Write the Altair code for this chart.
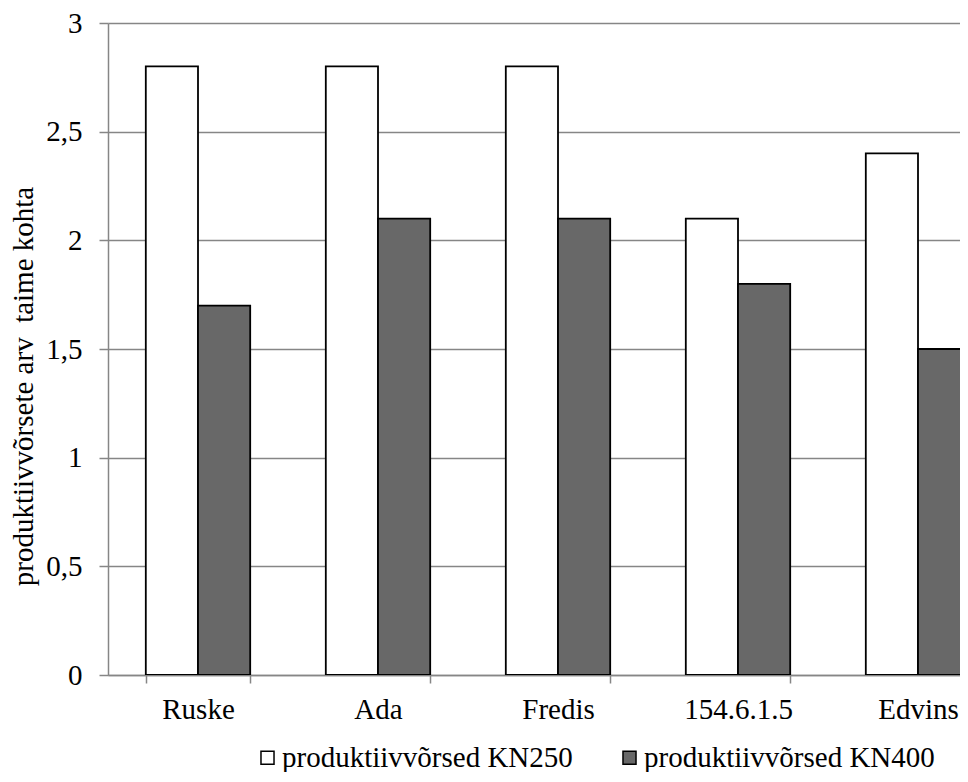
import altair as alt
import pandas as pd

categories = ["Ruske", "Ada", "Fredis", "154.6.1.5", "Edvins"]
series = ["produktiivvõrsed KN250", "produktiivvõrsed KN400"]
kn250 = [2.8, 2.8, 2.8, 2.1, 2.4]
kn400 = [1.7, 2.1, 2.1, 1.8, 1.5]
y_ticks = [0, 0.5, 1, 1.5, 2, 2.5, 3]
y_title = "produktiivvõrsete arv\u00a0 taime kohta"

rows = []
for c, a, b in zip(categories, kn250, kn400):
    rows.append({"cat": c, "series": series[0], "value": a})
    rows.append({"cat": c, "series": series[1], "value": b})
df = pd.DataFrame(rows)

FONT = "Liberation Serif"
GRAY = "#868686"
FS = 29

chart = alt.Chart(df).mark_bar(stroke="black", strokeWidth=1.8, clip=True).encode(
    x=alt.X(
        "cat:N",
        sort=categories,
        scale=alt.Scale(range=[0, 900], paddingInner=0.42, paddingOuter=0.21),
        axis=alt.Axis(
            title=None, labelAngle=0, tickBand="extent", ticks=True, tickSize=8,
            labelPadding=12, domainColor=GRAY, tickColor=GRAY, domainWidth=1.5,
            tickWidth=1.5, grid=False, labelFont=FONT, labelFontSize=FS,
            labelColor="black",
        ),
    ),
    xOffset=alt.XOffset("series:N", sort=series),
    y=alt.Y(
        "value:Q",
        scale=alt.Scale(domain=[0, 3], nice=False),
        axis=alt.Axis(
            values=y_ticks, title=y_title,
            labelExpr="replace(format(datum.value, '~g'), '.', ',')",
            tickSize=9, labelPadding=17, tickColor=GRAY, tickWidth=1.5,
            domainColor=GRAY, domainWidth=1.5, gridColor=GRAY, gridWidth=1.5,
            labelFont=FONT, labelFontSize=FS, labelColor="black",
            titleFont=FONT, titleFontSize=FS, titleFontWeight="normal",
            titleColor="black", titleX=-85, titleY=363, titleAngle=270,
            titleBaseline="middle", titleAlign="center",
        ),
    ),
    color=alt.Color(
        "series:N",
        scale=alt.Scale(domain=series, range=["white", "#686868"]),
        legend=alt.Legend(
            title=None, orient="none", legendX=145, legendY=720,
            direction="horizontal", columns=2, columnPadding=42,
            symbolType="square", symbolSize=170, symbolStrokeColor="black",
            symbolStrokeWidth=1.5, labelOffset=0, labelFont=FONT,
            labelFontSize=FS, labelColor="black", padding=0, labelLimit=500,
        ),
    ),
).properties(
    width=852,
    height=652,
    autosize=alt.AutoSizeParams(type="none"),
    padding={"left": 100, "top": 15, "right": 0, "bottom": 97},
).configure_view(stroke=None)

chart.save("out.html", embed_options={"renderer": "svg", "actions": False})
